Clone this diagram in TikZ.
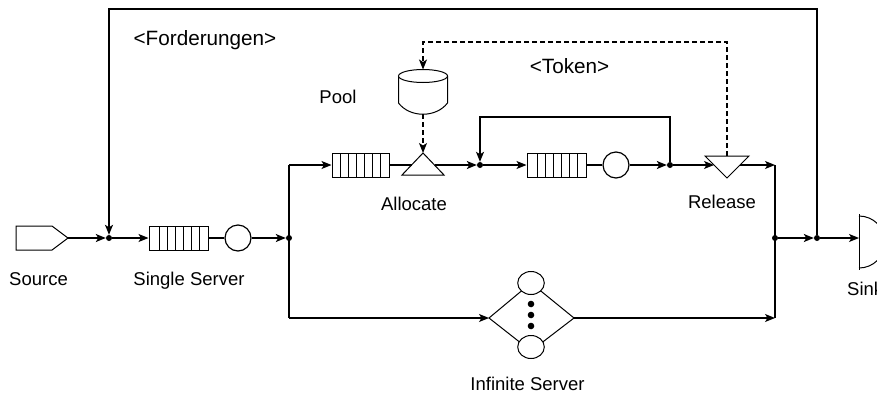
\documentclass[tikz,border=0pt]{standalone}
\usepackage{fontspec}
\setmainfont{Liberation Sans}
\usetikzlibrary{arrows.meta}
\begin{document}
\begin{tikzpicture}[x=1pt,y=-1pt,
  ln/.style={line width=1.2pt},
  arr/.style={ln,-{Stealth[length=10pt,width=8pt,inset=2.5pt]}},
  dsh/.style={dash pattern=on 5pt off 3pt},
  jdot/.style={circle,fill=black,inner sep=0pt,minimum size=6pt},
  srv/.style={draw,circle,minimum size=26pt,inner sep=0pt,line width=1.2pt},
  queue/.style={draw,line width=1pt,minimum width=#1,minimum height=24pt,inner sep=0pt,
    path picture={\foreach \k in {1,...,6}{\draw[line width=1pt]
      ([xshift=-\k*8.1pt]path picture bounding box.north east) --
      ([xshift=-\k*8.1pt]path picture bounding box.south east);}}},
  lbl/.style={anchor=base,inner sep=0pt,font=\fontsize{18.5}{22}\selectfont},
  biglbl/.style={anchor=base,inner sep=0pt,font=\fontsize{20.7}{24}\selectfont}]
\useasboundingbox (0,0) rectangle (877,394);
\clip (0,0) rectangle (877,394);

% Source
\draw[line width=1pt] (16,226) -- (52,226) -- (68,238) -- (52,250) -- (16,250) -- cycle;
\coordinate (srcout) at (68,238);
\node[jdot] (j1) at (109,238) {};
\node[queue=59pt] (qS) at (178.5,238) {};
\node[srv] (cS) at (238,238) {};
\node[jdot] (j2) at (289,238) {};
\coordinate (tb) at (289,165);
\coordinate (bb) at (289,318);

% upper branch
\node[queue=57pt] (qA) at (360.5,165) {};
\draw[line width=1pt] (402,175) -- (423,153) -- (444,175) -- cycle;
\coordinate (allocIn) at (411.5,165);
\coordinate (allocOut) at (434.5,165);
\coordinate (allocTop) at (423,153);
\node[jdot] (j3) at (480,165) {};
\node[queue=59pt] (qB) at (556.5,165) {};
\node[srv] (cB) at (616,165) {};
\node[jdot] (j4) at (670,165) {};
\draw[line width=1pt] (705,156) -- (749,156) -- (727,178) -- cycle;
\coordinate (relIn) at (714,165);
\coordinate (relOut) at (740,165);
\coordinate (relTop) at (727,156);
\coordinate (rc) at (775,165);
\coordinate (br) at (775,318);
\node[jdot] (j5) at (775,238) {};
\node[jdot] (j6) at (817,238) {};

% Pool
\draw[line width=1pt] (398.5,76) -- (398.5,103) .. controls (410,118) and (436,118) .. (447.5,103) -- (447.5,76);
\draw[line width=1pt,fill=white] (423,76) ellipse [x radius=24.5, y radius=6.5];
\coordinate (poolTop) at (423,69.5);
\coordinate (poolBot) at (423,114);

% Infinite server
\draw[line width=1pt] (489,318) -- (531,283) -- (574,318) -- (531,351) -- cycle;
\draw[line width=1pt,fill=white] (531,283) ellipse [x radius=13.3, y radius=11.5];
\draw[line width=1pt,fill=white] (531,347) ellipse [x radius=13.3, y radius=11.5];
\fill (531,304) circle (3.3) (531,315) circle (3.3) (531,326) circle (3.3);
\coordinate (isIn) at (489,318);
\coordinate (isOut) at (574,318);

% Sink
\draw[line width=1pt] (859,214) -- (859,270);
\draw[line width=1pt] (859,216) arc[start angle=-90,end angle=90,radius=26];
\coordinate (sinkIn) at (859,238);

% connectors
\draw[arr] (srcout) -- (j1);
\draw[arr] (j1) -- (qS);
\draw[ln] (qS) -- (cS);
\draw[arr] (cS) -- (j2);
\draw[ln] (tb) -- (bb);
\draw[arr] (tb) -- (qA);
\draw[ln] (qA.east) -- (allocIn);
\draw[arr] (allocOut) -- (j3);
\draw[arr] (j3) -- (qB);
\draw[ln] (qB) -- (cB);
\draw[arr] (cB) -- (j4);
\draw[arr] (j4) -- (relIn);
\draw[arr] (relOut) -- (rc);
\draw[ln] (rc) -- (br);
\draw[arr] (bb) -- (isIn);
\draw[arr] (isOut) -- (br);
\draw[arr] (j5) -- (j6);
\draw[arr] (j6) -- (sinkIn);
\draw[arr] (j4) -- (670,117) -- (480,117) -- (j3);
\draw[arr] (j6) -- (817,9) -- (109,9) -- (j1);
\draw[arr,dsh] (relTop) -- (727,42) -- (423,42) -- (poolTop);
\draw[arr,dsh] (poolBot) -- (allocTop);

% labels
\node[lbl] (lSource) at (38.5,285) {Source};
\node[lbl] (lSingle) at (189,285) {Single Server};
\node[lbl] (lAlloc) at (414,210) {Allocate};
\node[lbl] (lRel) at (722,208) {Release};
\node[lbl] (lPool) at (338,103) {Pool};
\node[lbl] (lInf) at (527.5,390) {Infinite Server};
\node[lbl,anchor=base west] (lSink) at (847,295) {Sink};
\node[biglbl] (lForder) at (205,45) {<Forderungen>};
\node[biglbl] (lToken) at (569.5,73) {<Token>};
\end{tikzpicture}
\end{document}
